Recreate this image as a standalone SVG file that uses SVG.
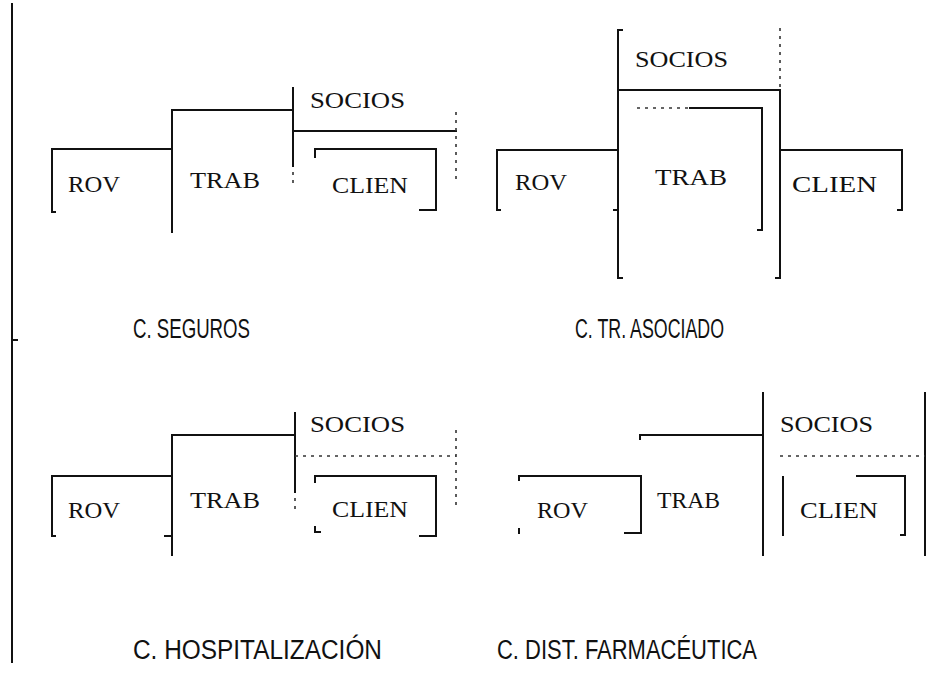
<svg xmlns="http://www.w3.org/2000/svg" width="939" height="674" viewBox="0 0 939 674">
<style>
.ln{fill:none;stroke:#111;stroke-width:2;stroke-linecap:square}
.dt{fill:none;stroke:#333;stroke-width:1.6;stroke-dasharray:3 5}
.lb{font-family:"Liberation Serif","Times New Roman",serif;font-size:24px;fill:#111}
.cp{font-family:"Liberation Sans",Arial,sans-serif;font-size:27px;fill:#111}
</style>
<rect width="939" height="674" fill="#fff"/>
<g id="frame">
<path class="ln" d="M12,4 L12,662 M12,340 L17,340"/>
</g>
<g id="connectors">
<!-- Q1 -->
<path class="ln" d="M55,212 L52,212 L52,149 L172,149"/>
<path class="ln" d="M172,232 L172,110 L293,110"/>
<path class="ln" d="M293,88 L293,166"/>
<path class="dt" d="M293,172 L293,188"/>
<path class="ln" d="M293,131 L456,131"/>
<path class="dt" d="M456,112 L456,183"/>
<path class="ln" d="M315,157 L315,149 L436,149 L436,210 L420,210"/>
<!-- Q2 -->
<path class="ln" d="M622,30 L618,30 L618,278 L622,278"/>
<path class="dt" d="M780,28 L780,88"/>
<path class="ln" d="M780,90 L780,278 L776,278"/>
<path class="ln" d="M618,90 L780,90"/>
<path class="dt" d="M637,108 L690,108"/>
<path class="ln" d="M690,108 L762,108 L762,230 L758,230"/>
<path class="ln" d="M500,210 L497,210 L497,150 L618,150 M614,210 L618,210"/>
<path class="ln" d="M782,150 L902,150 L902,210 L898,210"/>
<!-- Q3 -->
<path class="ln" d="M55,536 L52,536 L52,476 L172,476 M165,536 L172,536"/>
<path class="ln" d="M172,555 L172,435 L295,435"/>
<path class="ln" d="M295,413 L295,492"/>
<path class="dt" d="M295,498 L295,513"/>
<path class="dt" d="M295,456 L456,456"/>
<path class="dt" d="M456,430 L456,510"/>
<path class="ln" d="M315,482 L315,476 L436,476 L436,536 L420,536 M315,527 L315,532 L320,532"/>
<!-- Q4 -->
<path class="ln" d="M640,439 L640,435 L763,435"/>
<path class="ln" d="M763,393 L763,555 M925,393 L925,555"/>
<path class="dt" d="M780,456 L925,456"/>
<path class="ln" d="M519,480 L519,476 L641,476 L641,533 L625,533 M519,529 L519,533"/>
<path class="ln" d="M783,477 L783,535 M857,476 L905,476 L905,535 L901,535"/>
</g>
<g id="seguros">
<text class="lb" x="310" y="108" textLength="95" lengthAdjust="spacingAndGlyphs">SOCIOS</text>
<text class="lb" x="68" y="192" textLength="52" lengthAdjust="spacingAndGlyphs">ROV</text>
<text class="lb" x="190" y="188" textLength="70" lengthAdjust="spacingAndGlyphs">TRAB</text>
<text class="lb" x="332" y="193" textLength="76" lengthAdjust="spacingAndGlyphs">CLIEN</text>
<text class="cp" x="133" y="338" textLength="117" lengthAdjust="spacingAndGlyphs">C. SEGUROS</text>
</g>
<g id="asociado">
<text class="lb" x="635" y="67" textLength="93" lengthAdjust="spacingAndGlyphs">SOCIOS</text>
<text class="lb" x="515" y="190" textLength="52" lengthAdjust="spacingAndGlyphs">ROV</text>
<text class="lb" x="655" y="185" textLength="72" lengthAdjust="spacingAndGlyphs">TRAB</text>
<text class="lb" x="792" y="192" textLength="85" lengthAdjust="spacingAndGlyphs">CLIEN</text>
<text class="cp" x="575" y="338" textLength="149" lengthAdjust="spacingAndGlyphs">C. TR. ASOCIADO</text>
</g>
<g id="hospitalizacion">
<text class="lb" x="310" y="432" textLength="95" lengthAdjust="spacingAndGlyphs">SOCIOS</text>
<text class="lb" x="68" y="518" textLength="52" lengthAdjust="spacingAndGlyphs">ROV</text>
<text class="lb" x="190" y="508" textLength="70" lengthAdjust="spacingAndGlyphs">TRAB</text>
<text class="lb" x="332" y="517" textLength="76" lengthAdjust="spacingAndGlyphs">CLIEN</text>
<text class="cp" x="133" y="659" textLength="249" lengthAdjust="spacingAndGlyphs">C. HOSPITALIZACIÓN</text>
</g>
<g id="farmaceutica">
<text class="lb" x="780" y="432" textLength="93" lengthAdjust="spacingAndGlyphs">SOCIOS</text>
<text class="lb" x="537" y="518" textLength="51" lengthAdjust="spacingAndGlyphs">ROV</text>
<text class="lb" x="657" y="508" textLength="63" lengthAdjust="spacingAndGlyphs">TRAB</text>
<text class="lb" x="800" y="518" textLength="78" lengthAdjust="spacingAndGlyphs">CLIEN</text>
<text class="cp" x="497" y="659" textLength="260" lengthAdjust="spacingAndGlyphs">C. DIST. FARMACÉUTICA</text>
</g>
</svg>
